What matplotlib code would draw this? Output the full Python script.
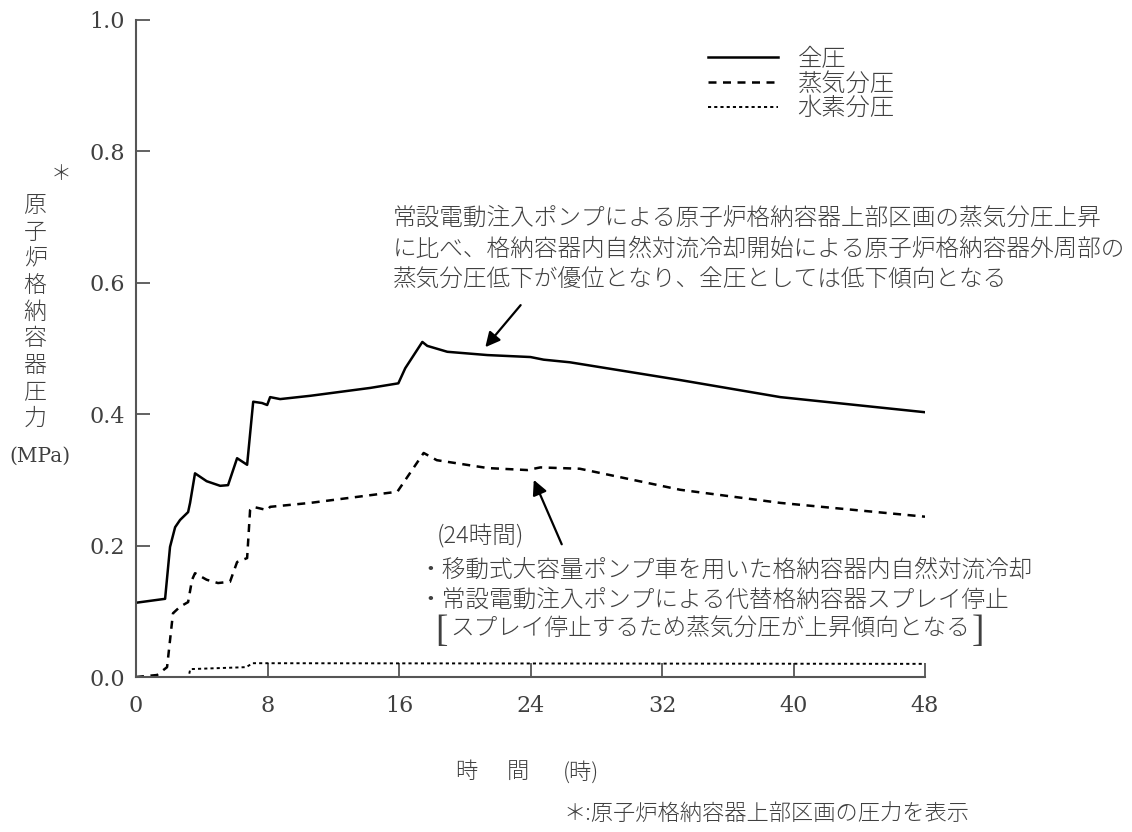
import matplotlib
matplotlib.use("Agg")
import matplotlib.pyplot as plt

plt.rcParams['font.family'] = ['Noto Sans CJK JP', 'DejaVu Sans']
plt.rcParams['font.weight'] = 'light'

# 全圧
time_total = [0, 1.77, 2.07, 2.38, 2.68, 3.17, 3.29, 3.59, 4.3, 5.12, 5.6,
              6.15, 6.76, 7.13, 7.67, 7.98, 8.16, 8.77, 10.6, 14.25, 15.96,
              16.38, 17.42, 17.72, 18.94, 21.38, 24.0, 24.8, 26.4, 33.1,
              39.2, 48]
total = [0.113, 0.119, 0.198, 0.228, 0.239, 0.251, 0.265, 0.31, 0.298,
         0.291, 0.292, 0.333, 0.323, 0.419, 0.417, 0.414, 0.426, 0.423,
         0.428, 0.44, 0.447, 0.47, 0.51, 0.504, 0.495, 0.49, 0.487, 0.483,
         0.479, 0.452, 0.426, 0.403]

# 蒸気分圧
time_steam = [0, 1.28, 1.89, 2.07, 2.25, 2.68, 3.17, 3.41, 3.59, 4.3, 4.99,
              5.72, 6.15, 6.76, 6.94, 7.13, 7.98, 8.16, 10.6, 15.9, 17.5,
              18.3, 21.4, 23.8, 24.6, 27.0, 33.1, 39.2, 48]
steam = [0, 0.003, 0.015, 0.056, 0.097, 0.107, 0.114, 0.148, 0.158, 0.148,
         0.143, 0.145, 0.175, 0.181, 0.254, 0.259, 0.254, 0.259, 0.265,
         0.282, 0.341, 0.330, 0.318, 0.315, 0.319, 0.317, 0.285, 0.265,
         0.244]

# 水素分圧
time_h2 = [0, 3.2, 3.3, 6.7, 7.1, 48]
h2 = [0, 0, 0.012, 0.015, 0.021, 0.02]

x_ticks = [0, 8, 16, 24, 32, 40, 48]
y_ticks = [0.0, 0.2, 0.4, 0.6, 0.8, 1.0]

labels = ["全圧", "蒸気分圧", "水素分圧"]

note_top = ["常設電動注入ポンプによる原子炉格納容器上部区画の蒸気分圧上昇",
            "に比べ、格納容器内自然対流冷却開始による原子炉格納容器外周部の",
            "蒸気分圧低下が優位となり、全圧としては低下傾向となる"]
note_bottom = ["(24時間)",
               "・移動式大容量ポンプ車を用いた格納容器内自然対流冷却",
               "・常設電動注入ポンプによる代替格納容器スプレイ停止",
               "スプレイ停止するため蒸気分圧が上昇傾向となる"]

# arrows: (tail, head) in data units
arrow_top = ((23.4, 0.566), (21.25, 0.502))
arrow_bottom = ((25.9, 0.202), (24.2, 0.300))

W, H = 1132, 832
TXT = '#404040'


def fx(px):
    return px / W


def fy(py):
    return 1 - py / H


fig = plt.figure(figsize=(W / 100, H / 100), dpi=100)
ax = fig.add_axes([fx(136), fy(677), fx(925) - fx(136), fy(20) - fy(677)])

ax.plot(time_total, total, color='black', lw=1.8, label=labels[0])
ax.plot(time_steam, steam, color='black', lw=1.8,
        linestyle=(0, (3.2, 2.6)), label=labels[1])
ax.plot(time_h2, h2, color='black', lw=1.4,
        linestyle=(0, (1.6, 1.6)), label=labels[2])

ax.set_xlim(0, 48)
ax.set_ylim(0, 1.0)
ax.set_xticks(x_ticks)
ax.set_yticks(y_ticks)
ax.set_xticklabels([str(t) for t in x_ticks], fontfamily='DejaVu Serif',
                   fontsize=16, color=TXT)
ax.set_yticklabels([f"{v:.1f}" for v in y_ticks],
                   fontfamily='DejaVu Serif', fontsize=16, color=TXT)
ax.tick_params(direction='in', length=10, width=1.3, color='#555555')
ax.tick_params(axis='y', pad=8)
ax.tick_params(axis='x', pad=13)
for side in ['top', 'right']:
    ax.spines[side].set_visible(False)
for side in ['left', 'bottom']:
    ax.spines[side].set_color('#555555')
    ax.spines[side].set_linewidth(1.5)

leg = ax.legend(loc='upper left', bbox_to_anchor=(fx(708), fy(47)),
                bbox_transform=fig.transFigure, frameon=False,
                handlelength=2.9, handletextpad=0.78, labelspacing=-0.02,
                borderpad=0, borderaxespad=0, fontsize=17.5)
for t in leg.get_texts():
    t.set_color(TXT)

# annotations
for i, line in enumerate(note_top):
    fig.text(fx(393), fy(218 + 31 * i), line, fontsize=17, color=TXT,
             va='center', ha='left')
fig.text(fx(437), fy(537), note_bottom[0], fontsize=17, color=TXT,
         va='center', ha='left')
fig.text(fx(418), fy(570), note_bottom[1], fontsize=17, color=TXT,
         va='center', ha='left')
fig.text(fx(418), fy(600), note_bottom[2], fontsize=17, color=TXT,
         va='center', ha='left')
fig.text(fx(450), fy(629), note_bottom[3], fontsize=17, color=TXT,
         va='center', ha='left')
fig.text(fx(435), fy(632), "[", fontsize=27, color=TXT, va='center',
         ha='left', fontfamily='Liberation Serif')
fig.text(fx(972), fy(632), "]", fontsize=27, color=TXT, va='center',
         ha='left', fontfamily='Liberation Serif')

for tail, head in [arrow_top, arrow_bottom]:
    ax.annotate("", xy=head, xytext=tail,
                arrowprops=dict(arrowstyle='-|>', color='black', lw=1.6,
                                mutation_scale=22, shrinkA=0, shrinkB=0))

# y label (vertical)
fig.text(fx(61), fy(174), "＊", fontsize=15, color=TXT, ha='center',
         va='center')
for i, ch in enumerate("原子炉格納容器圧力"):
    fig.text(fx(35), fy(206 + 26.5 * i), ch, fontsize=16.5, color=TXT,
             ha='center', va='center')
fig.text(fx(40), fy(456), "(MPa)", fontsize=14.5, color=TXT, ha='center',
         va='center', fontfamily='DejaVu Serif')

# x label
fig.text(fx(466), fy(772), "時", fontsize=16, color=TXT, ha='center',
         va='center')
fig.text(fx(518), fy(772), "間", fontsize=16, color=TXT, ha='center',
         va='center')
fig.text(fx(581), fy(772), "(時)", fontsize=16, color=TXT, ha='center',
         va='center')
fig.text(fx(563), fy(815), "＊:原子炉格納容器上部区画の圧力を表示",
         fontsize=16, color=TXT, ha='left', va='center')

fig.savefig("out.png", dpi=100)
